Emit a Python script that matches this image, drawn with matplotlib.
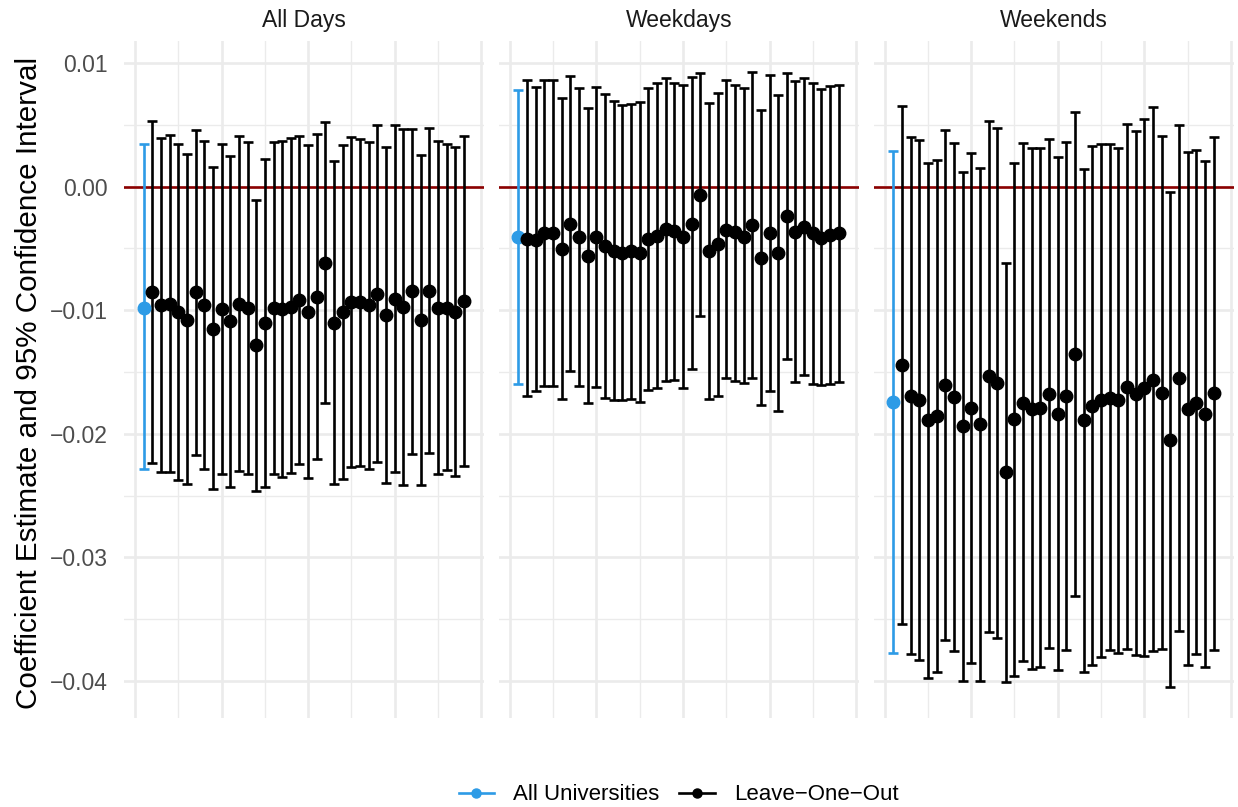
import matplotlib
matplotlib.use("Agg")
import matplotlib.pyplot as plt
import numpy as np
from matplotlib.lines import Line2D

plt.rcParams["font.family"] = ["Liberation Sans", "DejaVu Sans"]

panels = ["All Days", "Weekdays", "Weekends"]

# pooled estimate (all universities) per panel
pooled_est = [-0.00978, -0.00407, -0.01743]
pooled_lo = [-0.02284, -0.01597, -0.03775]
pooled_hi = [0.00342, 0.00783, 0.00291]

# leave-one-out estimates, all days
alldays_est = [-0.00851, -0.00959, -0.00951, -0.01018, -0.01077, -0.00854, -0.00961, -0.01150, -0.00994, -0.01091,
               -0.00951, -0.00986, -0.01285, -0.01107, -0.00986, -0.00994, -0.00972, -0.00921, -0.01013, -0.00891,
               -0.00614, -0.01101, -0.01018, -0.00937, -0.00937, -0.00961, -0.00865, -0.01042, -0.00908, -0.00975,
               -0.00846, -0.01080, -0.00843, -0.00983, -0.00978, -0.01013, -0.00929]
alldays_hi = [0.00530, 0.00390, 0.00414, 0.00347, 0.00261, 0.00460, 0.00366, 0.00159, 0.00342, 0.00245,
              0.00406, 0.00361, -0.00105, 0.00221, 0.00361, 0.00366, 0.00393, 0.00409, 0.00339, 0.00428,
              0.00525, 0.00207, 0.00334, 0.00401, 0.00382, 0.00361, 0.00501, 0.00320, 0.00498, 0.00466,
              0.00468, 0.00253, 0.00471, 0.00366, 0.00347, 0.00320, 0.00409]
alldays_lo = [-0.02232, -0.02305, -0.02305, -0.02372, -0.02407, -0.02168, -0.02284, -0.02450, -0.02324, -0.02426,
              -0.02300, -0.02324, -0.02459, -0.02432, -0.02327, -0.02348, -0.02318, -0.02246, -0.02359, -0.02203,
              -0.01748, -0.02407, -0.02364, -0.02270, -0.02257, -0.02284, -0.02227, -0.02399, -0.02305, -0.02413,
              -0.02160, -0.02415, -0.02152, -0.02324, -0.02292, -0.02337, -0.02259]

# weekdays
weekdays_est = [-0.00420, -0.00434, -0.00372, -0.00372, -0.00504, -0.00302, -0.00410, -0.00560, -0.00410, -0.00480,
                -0.00520, -0.00541, -0.00523, -0.00533, -0.00426, -0.00399, -0.00342, -0.00361, -0.00410, -0.00299,
                -0.00068, -0.00523, -0.00463, -0.00348, -0.00369, -0.00404, -0.00310, -0.00579, -0.00377, -0.00539,
                -0.00240, -0.00366, -0.00326, -0.00377, -0.00412, -0.00393, -0.00375]
weekdays_hi = [0.00859, 0.00805, 0.00859, 0.00864, 0.00713, 0.00891, 0.00794, 0.00638, 0.00805, 0.00751,
               0.00689, 0.00662, 0.00670, 0.00681, 0.00799, 0.00837, 0.00875, 0.00837, 0.00824, 0.00883,
               0.00921, 0.00676, 0.00759, 0.00859, 0.00821, 0.00799, 0.00929, 0.00616, 0.00904, 0.00740,
               0.00918, 0.00856, 0.00875, 0.00842, 0.00789, 0.00813, 0.00826]
weekdays_lo = [-0.01694, -0.01656, -0.01613, -0.01613, -0.01721, -0.01492, -0.01610, -0.01750, -0.01621, -0.01707,
               -0.01729, -0.01729, -0.01721, -0.01742, -0.01645, -0.01627, -0.01573, -0.01565, -0.01632, -0.01476,
               -0.01048, -0.01715, -0.01691, -0.01551, -0.01570, -0.01592, -0.01548, -0.01767, -0.01653, -0.01815,
               -0.01398, -0.01581, -0.01524, -0.01597, -0.01605, -0.01597, -0.01581]

# weekends
weekends_est = [-0.01443, -0.01692, -0.01727, -0.01891, -0.01855, -0.01606, -0.01705, -0.01939, -0.01791, -0.01923,
                -0.01532, -0.01590, -0.02310, -0.01881, -0.01747, -0.01795, -0.01788, -0.01676, -0.01836, -0.01695,
                -0.01353, -0.01891, -0.01772, -0.01724, -0.01708, -0.01727, -0.01619, -0.01676, -0.01628, -0.01561,
                -0.01667, -0.02047, -0.01548, -0.01795, -0.01747, -0.01839, -0.01673]
weekends_hi = [0.00649, 0.00400, 0.00377, 0.00192, 0.00218, 0.00457, 0.00355, 0.00122, 0.00275, 0.00150,
               0.00534, 0.00477, -0.00617, 0.00195, 0.00349, 0.00310, 0.00310, 0.00384, 0.00240, 0.00361,
               0.00605, 0.00144, 0.00326, 0.00345, 0.00342, 0.00313, 0.00509, 0.00448, 0.00544, 0.00646,
               0.00409, -0.00042, 0.00502, 0.00282, 0.00298, 0.00208, 0.00403]
weekends_lo = [-0.03538, -0.03778, -0.03832, -0.03973, -0.03925, -0.03666, -0.03759, -0.03996, -0.03855, -0.03996,
               -0.03599, -0.03653, -0.04008, -0.03957, -0.03836, -0.03900, -0.03884, -0.03736, -0.03909, -0.03752,
               -0.03311, -0.03928, -0.03874, -0.03804, -0.03752, -0.03772, -0.03740, -0.03788, -0.03800, -0.03759,
               -0.03743, -0.04047, -0.03592, -0.03868, -0.03781, -0.03890, -0.03746]

loo = [
    (alldays_est, alldays_lo, alldays_hi),
    (weekdays_est, weekdays_lo, weekdays_hi),
    (weekends_est, weekends_lo, weekends_hi),
]

BLUE = "#2D9BE6"
GRID = "#EBEBEB"

fig = plt.figure(figsize=(12.38, 8.07), dpi=100)

left0, width, step = 0.1004, 0.2908, 0.30275
bottom, height = 0.1107, 0.8385

for i, name in enumerate(panels):
    ax = fig.add_axes([left0 + i * step, bottom, width, height])
    est, lo, hi = (np.asarray(v) for v in loo[i])
    xs = np.arange(len(est)) + 2

    ax.axhline(0, color="#8B0000", lw=1.9, zorder=2)

    ax.errorbar([1], [pooled_est[i]],
                yerr=[[pooled_est[i] - pooled_lo[i]], [pooled_hi[i] - pooled_est[i]]],
                fmt="o", color=BLUE, ms=9, elinewidth=1.9, capsize=3.6, capthick=1.9, zorder=3)
    ax.errorbar(xs, est, yerr=[est - lo, hi - est],
                fmt="o", color="black", ms=9, elinewidth=1.9, capsize=3.6, capthick=1.9, zorder=3)

    ax.set_xlim(-1.24, 40.35)
    ax.set_ylim(-0.04296, 0.01178)
    ax.set_xticks([0, 10, 20, 30, 40])
    ax.set_xticks([5, 15, 25, 35], minor=True)
    ax.set_yticks([-0.04, -0.03, -0.02, -0.01, 0.0, 0.01])
    ax.set_yticks([-0.035, -0.025, -0.015, -0.005, 0.005], minor=True)
    ax.grid(which="major", color=GRID, lw=1.9)
    ax.grid(which="minor", color=GRID, lw=0.95)
    ax.set_axisbelow(True)
    for s in ax.spines.values():
        s.set_visible(False)
    ax.tick_params(which="both", length=0)
    ax.tick_params(axis="x", labelbottom=False)
    if i == 0:
        ax.set_yticklabels([f"{v:.2f}".replace("-", "\u2212") for v in ax.get_yticks()])
        ax.tick_params(axis="y", labelsize=16.5, labelcolor="#4D4D4D", pad=12)
    else:
        ax.tick_params(axis="y", labelleft=False)

    ax.text(0.5, 1.031, name, transform=ax.transAxes, ha="center", va="center",
            fontsize=16.5, color="#1A1A1A")

fig.text(0.0238, 0.526, "Coefficient Estimate and 95% Confidence Interval",
         rotation=90, ha="center", va="center", fontsize=21.3, color="black")

handles = [
    Line2D([], [], color=BLUE, marker="o", ms=6.5, lw=1.9),
    Line2D([], [], color="black", marker="o", ms=6.5, lw=1.9),
]
fig.legend(handles, ["All Universities", "Leave\u2212One\u2212Out"], loc="center",
           bbox_to_anchor=(0.548, 0.015), ncol=2, frameon=False, fontsize=16,
           handlelength=1.6, handletextpad=0.85, columnspacing=0.9)

fig.savefig("out.png", dpi=100)
